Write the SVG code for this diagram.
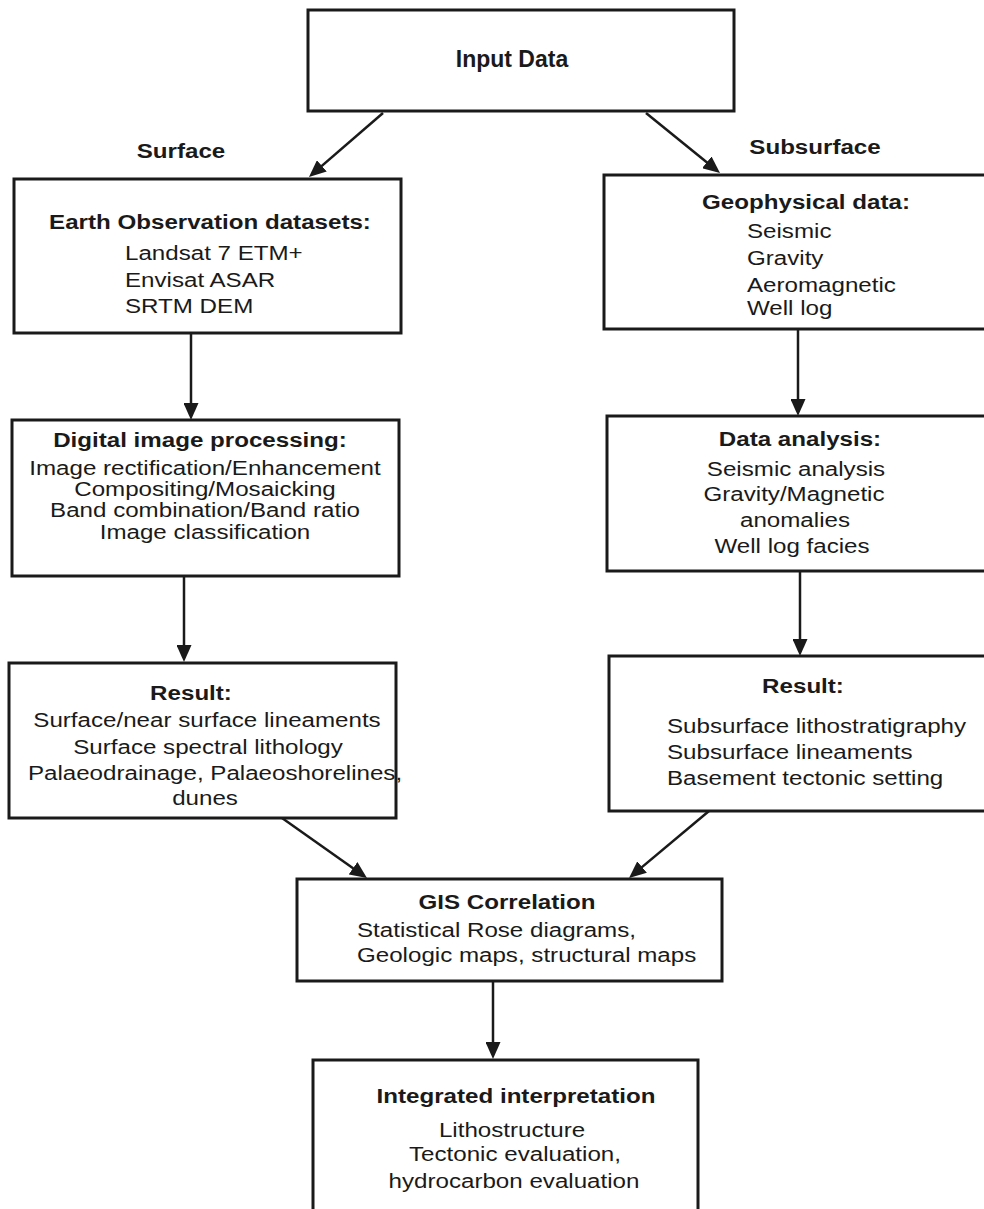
<svg xmlns="http://www.w3.org/2000/svg" width="984" height="1209" viewBox="0 0 984 1209">
<style>
.box{fill:#fff;stroke:#1a1a1a;stroke-width:3}
.t{font-family:"Liberation Sans",Arial,sans-serif;font-size:21px;fill:#1a1a1a}
.b{font-weight:bold}
.m{text-anchor:middle}
.c{fill:none;stroke:#1a1a1a;stroke-width:2.5}
</style>
<defs>
<marker id="ah" viewBox="0 0 17 15" refX="13" refY="7.5" markerWidth="17" markerHeight="15" markerUnits="userSpaceOnUse" orient="auto">
<path d="M0,0 L17,7.5 L0,15 z" fill="#1a1a1a"/>
</marker>
</defs>
<rect width="984" height="1209" fill="#fff"/>
<g id="connectors">
<line class="c" x1="383" y1="113" x2="312" y2="174.4" marker-end="url(#ah)"/>
<line class="c" x1="646" y1="113" x2="716.9" y2="170.5" marker-end="url(#ah)"/>
<line class="c" x1="191" y1="333" x2="191" y2="416" marker-end="url(#ah)"/>
<line class="c" x1="184" y1="576" x2="184" y2="658" marker-end="url(#ah)"/>
<line class="c" x1="798" y1="329" x2="798" y2="412" marker-end="url(#ah)"/>
<line class="c" x1="800" y1="571" x2="800" y2="652" marker-end="url(#ah)"/>
<line class="c" x1="282" y1="818" x2="363.7" y2="875.7" marker-end="url(#ah)"/>
<line class="c" x1="709" y1="811" x2="632.1" y2="875.4" marker-end="url(#ah)"/>
<line class="c" x1="493" y1="981" x2="493" y2="1055" marker-end="url(#ah)"/>
</g>
<g id="labels">
<text class="t b m" transform="matrix(1.15 0 0 1 181 158)">Surface</text>
<text class="t b m" transform="matrix(1.15 0 0 1 815 154)">Subsurface</text>
</g>
<g id="input-data">
<rect class="box" x="308" y="10" width="426" height="101"/>
<text class="t b m" x="512" y="67" style="font-size:23px">Input Data</text>
</g>
<g id="earth-observation">
<rect class="box" x="14" y="179" width="387" height="154"/>
<text class="t b m" transform="matrix(1.15 0 0 1 210 229)">Earth Observation datasets:</text>
<text class="t" transform="matrix(1.15 0 0 1 125 260)">Landsat 7 ETM+</text>
<text class="t" transform="matrix(1.15 0 0 1 125 287)">Envisat ASAR</text>
<text class="t" transform="matrix(1.15 0 0 1 125 313)">SRTM DEM</text>
</g>
<g id="digital-image-processing">
<rect class="box" x="12" y="420" width="387" height="156"/>
<text class="t b m" transform="matrix(1.15 0 0 1 200 447)">Digital image processing:</text>
<text class="t m" transform="matrix(1.15 0 0 1 205 475)">Image rectification/Enhancement</text>
<text class="t m" transform="matrix(1.15 0 0 1 205 496)">Compositing/Mosaicking</text>
<text class="t m" transform="matrix(1.15 0 0 1 205 517)">Band combination/Band ratio</text>
<text class="t m" transform="matrix(1.15 0 0 1 205 539)">Image classification</text>
</g>
<g id="surface-result">
<rect class="box" x="9" y="663" width="387" height="155"/>
<text class="t b m" transform="matrix(1.15 0 0 1 191 700)">Result:</text>
<text class="t m" transform="matrix(1.15 0 0 1 207 727)">Surface/near surface lineaments</text>
<text class="t m" transform="matrix(1.15 0 0 1 208 754)">Surface spectral lithology</text>
<text class="t m" transform="matrix(1.15 0 0 1 215 780)">Palaeodrainage, Palaeoshorelines,</text>
<text class="t m" transform="matrix(1.15 0 0 1 205 805)">dunes</text>
</g>
<g id="geophysical-data">
<rect class="box" x="604" y="175" width="400" height="154"/>
<text class="t b m" transform="matrix(1.15 0 0 1 806 209)">Geophysical data:</text>
<text class="t" transform="matrix(1.15 0 0 1 747 238)">Seismic</text>
<text class="t" transform="matrix(1.15 0 0 1 747 265)">Gravity</text>
<text class="t" transform="matrix(1.15 0 0 1 747 292)">Aeromagnetic</text>
<text class="t" transform="matrix(1.15 0 0 1 747 315)">Well log</text>
</g>
<g id="data-analysis">
<rect class="box" x="607" y="416" width="400" height="155"/>
<text class="t b m" transform="matrix(1.15 0 0 1 800 446)">Data analysis:</text>
<text class="t m" transform="matrix(1.15 0 0 1 796 476)">Seismic analysis</text>
<text class="t m" transform="matrix(1.15 0 0 1 794 501)">Gravity/Magnetic</text>
<text class="t m" transform="matrix(1.15 0 0 1 795 527)">anomalies</text>
<text class="t m" transform="matrix(1.15 0 0 1 792 553)">Well log facies</text>
</g>
<g id="subsurface-result">
<rect class="box" x="609" y="656" width="400" height="155"/>
<text class="t b m" transform="matrix(1.15 0 0 1 803 693)">Result:</text>
<text class="t" transform="matrix(1.15 0 0 1 667 733)">Subsurface lithostratigraphy</text>
<text class="t" transform="matrix(1.15 0 0 1 667 759)">Subsurface lineaments</text>
<text class="t" transform="matrix(1.15 0 0 1 667 785)">Basement tectonic setting</text>
</g>
<g id="gis-correlation">
<rect class="box" x="297" y="879" width="425" height="102"/>
<text class="t b m" transform="matrix(1.15 0 0 1 507 909)">GIS Correlation</text>
<text class="t" transform="matrix(1.15 0 0 1 357 937)">Statistical Rose diagrams,</text>
<text class="t" transform="matrix(1.15 0 0 1 357 962)">Geologic maps, structural maps</text>
</g>
<g id="integrated-interpretation">
<rect class="box" x="313" y="1060" width="385" height="200"/>
<text class="t b m" transform="matrix(1.15 0 0 1 516 1103)">Integrated interpretation</text>
<text class="t m" transform="matrix(1.15 0 0 1 512 1137)">Lithostructure</text>
<text class="t m" transform="matrix(1.15 0 0 1 515 1161)">Tectonic evaluation,</text>
<text class="t m" transform="matrix(1.15 0 0 1 514 1188)">hydrocarbon evaluation</text>
</g>
</svg>
